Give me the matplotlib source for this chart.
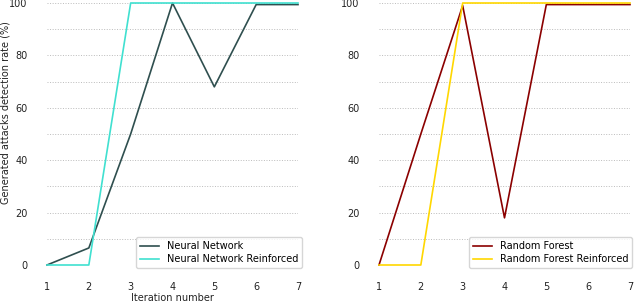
import matplotlib
matplotlib.use("Agg")
import matplotlib.pyplot as plt
import numpy as np

iterations = [1, 2, 3, 4, 5, 6, 7]
nn = [0, 6.5, 50, 100, 68, 99.4, 99.4]
nn_reinf = [0, 0, 100, 100, 100, 100, 100]
rf = [0, 50, 99, 18, 99.4, 99.4, 99.4]
rf_reinf = [0, 0, 100, 100, 100, 100, 100]

yticks = [0, 20, 40, 60, 80, 100]
xticks = [1, 2, 3, 4, 5, 6, 7]

plt.rcParams['font.family'] = ['DejaVu Sans']
fig = plt.figure(figsize=(6.4, 3.02), dpi=100)

bottom = (302 - 265) / 302
top = (302 - 3) / 302
ax1 = fig.add_axes([47 / 640, bottom, (298 - 47) / 640, top - bottom])
ax2 = fig.add_axes([379 / 640, bottom, (630 - 379) / 640, top - bottom])

def style(ax):
    ax.set_xlim(1, 7)
    ax.set_ylim(0, 100)
    for s in ax.spines.values():
        s.set_visible(False)
    ax.set_yticks(yticks)
    ax.set_yticks(np.arange(0, 101, 10), minor=True)
    ax.set_xticks(xticks)
    ax.tick_params(axis='both', which='both', length=0, labelsize=7, colors='#222222')
    ax.tick_params(axis='y', pad=14)
    ax.tick_params(axis='x', pad=12)
    ax.grid(axis='y', which='both', color='#bbbbbb', linestyle=':', linewidth=0.7)
    ax.set_axisbelow(True)

style(ax1)
style(ax2)

ax1.plot(iterations, nn, color='#2f4f4f', lw=1.2, label='Neural Network', clip_on=False)
ax1.plot(iterations, nn_reinf, color='#40e0d0', lw=1.2, label='Neural Network Reinforced', clip_on=False)
ax2.plot(iterations, rf, color='#8b0000', lw=1.2, label='Random Forest', clip_on=False)
ax2.plot(iterations, rf_reinf, color='#ffd700', lw=1.2, label='Random Forest Reinforced', clip_on=False)

ax1.set_ylabel('Generated attacks detection rate (%)', fontsize=7, color='#222222')
ax1.yaxis.set_label_coords((11 - 47) / 251, 0.58)
ax1.set_xlabel('Iteration number', fontsize=7, color='#222222')
ax1.xaxis.set_label_coords(0.5, -(293 - 265) / 262)

leg_kw = dict(loc='lower right', fontsize=7, frameon=True, fancybox=True,
              edgecolor='#cccccc', handlelength=2.0, borderpad=0.4, labelspacing=0.3)
ax1.legend(bbox_to_anchor=(307 / 640, (302 - 273) / 302), bbox_transform=fig.transFigure, **leg_kw)
ax2.legend(bbox_to_anchor=(637 / 640, (302 - 273) / 302), bbox_transform=fig.transFigure, **leg_kw)

fig.savefig('out.png', dpi=100)
